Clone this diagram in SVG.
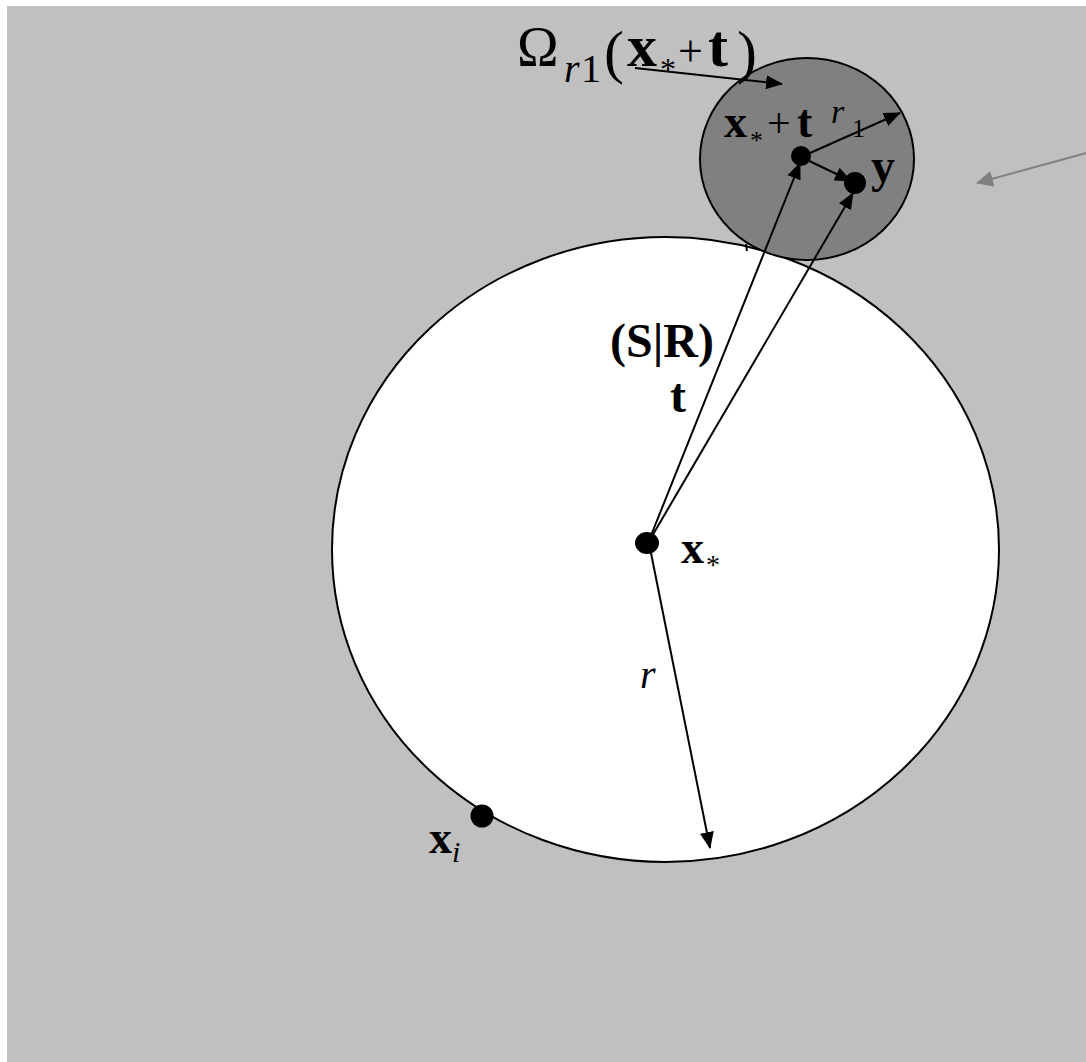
<svg xmlns="http://www.w3.org/2000/svg" width="1086" height="1062" viewBox="0 0 1086 1062">
<style>
.t{font-family:'Liberation Serif','Times New Roman',Times,serif;fill:#000}
.b{font-weight:bold}
.i{font-style:italic}
.ln{stroke:#000;stroke-width:2;fill:none}
.dot{fill:#000}
</style>
<defs>
<marker id="ah" markerUnits="userSpaceOnUse" markerWidth="18" markerHeight="14" refX="16" refY="7" orient="auto">
<path d="M0,0 L17,7 L0,14 Z" fill="#000"/>
</marker>
<marker id="ahg" markerUnits="userSpaceOnUse" markerWidth="18" markerHeight="16" refX="16" refY="8" orient="auto">
<path d="M0,0 L17,8 L0,16 Z" fill="#808080"/>
</marker>
</defs>
<rect x="0" y="0" width="1086" height="1062" fill="#fff"/>
<rect x="7" y="6" width="1079" height="1056" fill="#c0c0c0"/>
<g id="big-circle">
<ellipse cx="665.5" cy="549.5" rx="333.5" ry="312.5" fill="#fff" stroke="#000" stroke-width="2"/>
</g>
<g id="small-circle">
<ellipse cx="807" cy="159" rx="107" ry="101" fill="#808080" stroke="#000" stroke-width="2"/>
</g>
<line x1="746" y1="244" x2="747" y2="251" class="ln"/>
<g id="connectors">
<line class="ln" x1="648" y1="543" x2="800" y2="163" marker-end="url(#ah)"/>
<line class="ln" x1="648" y1="543" x2="853" y2="193" marker-end="url(#ah)"/>
<line class="ln" x1="650" y1="548" x2="710" y2="848" marker-end="url(#ah)"/>
<line class="ln" x1="801" y1="157" x2="900" y2="113" marker-end="url(#ah)"/>
<line class="ln" x1="801" y1="157" x2="851" y2="181" marker-end="url(#ah)"/>
<line class="ln" x1="635" y1="68" x2="782" y2="84" marker-end="url(#ah)"/>
<line x1="1090" y1="152" x2="977" y2="183" stroke="#808080" stroke-width="2" marker-end="url(#ahg)"/>
</g>
<g font-family="Liberation Serif, serif">
<g id="node-xstar">
<ellipse class="dot" cx="647" cy="543" rx="12" ry="11"/>
<text class="t b" x="681" y="563" font-size="46">x</text>
<text class="t" x="706" y="574" font-size="28">*</text>
</g>
<g id="node-xstar-t">
<circle class="dot" cx="801" cy="156" r="10"/>
<text class="t b" x="724" y="137" font-size="46">x</text>
<text class="t" x="750" y="149" font-size="26">*</text>
<text class="t" x="767" y="137" font-size="42">+</text>
<text class="t b" x="797" y="137" font-size="46">t</text>
</g>
<g id="node-y">
<circle class="dot" cx="855" cy="183" r="11"/>
<text class="t b" x="871" y="182" font-size="48">y</text>
</g>
<g id="node-xi">
<circle class="dot" cx="482" cy="816" r="11.5"/>
<text class="t b" x="429" y="853" font-size="46">x</text>
<text class="t i" x="452" y="862" font-size="30">i</text>
</g>
<g id="labels">
<text class="t" x="517" y="66" font-size="56">Ω</text>
<text class="t i" x="564" y="82" font-size="40">r</text>
<text class="t" x="581" y="82" font-size="40">1</text>
<text class="t" x="604" y="72" font-size="60">(</text>
<text class="t b" x="627" y="66" font-size="60">x</text>
<text class="t" x="660" y="80" font-size="32">*</text>
<text class="t" x="678" y="66" font-size="44">+</text>
<text class="t b" x="708" y="66" font-size="60">t</text>
<text class="t" x="737" y="72" font-size="60">)</text>
<text class="t i" x="831" y="123" font-size="34">r</text>
<text class="t" x="852" y="137" font-size="26">1</text>
<text class="t b" x="610" y="357" font-size="48">(S|R)</text>
<text class="t b" x="670" y="412" font-size="48">t</text>
<text class="t i" x="640" y="688" font-size="40">r</text>
</g>
</g>
</svg>
